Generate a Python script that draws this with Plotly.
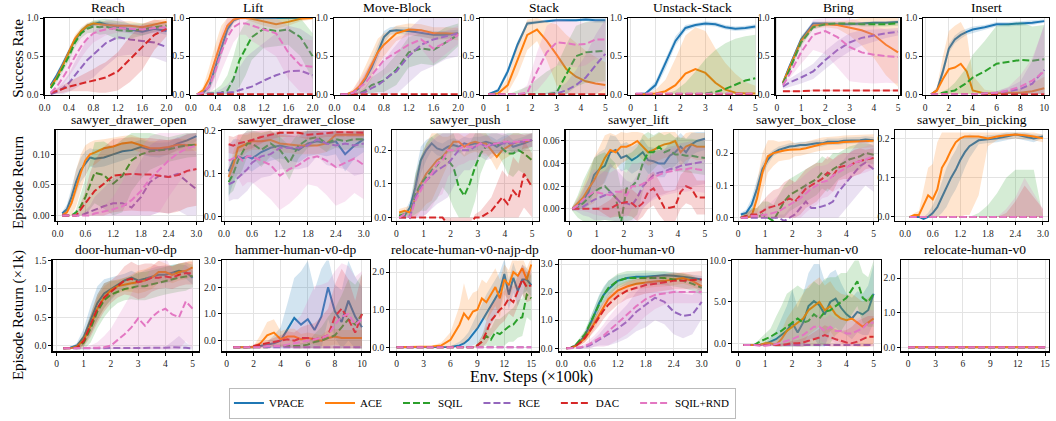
import plotly.graph_objects as go

W, H = 1056, 421
FONT = "Liberation Serif"

METHODS = ["VPACE", "ACE", "SQIL", "RCE", "DAC", "SQIL+RND"]
RGB = [(31, 119, 180), (255, 127, 14), (44, 160, 44), (148, 103, 189), (214, 39, 40), (227, 119, 194)]
DASHES = ["solid", "solid", "7px,3px", "7px,3px", "7px,3px", "7px,3px"]

# ---------------- Row 1: Success Rate ----------------
reach_x = [0.1, 0.2, 0.3, 0.4, 0.5, 0.6, 0.7, 0.8, 0.9, 1.0, 1.2, 1.4, 1.6, 1.8, 2.0]
reach_vpace = [0.12, 0.25, 0.40, 0.56, 0.72, 0.82, 0.90, 0.92, 0.94, 0.92, 0.88, 0.85, 0.82, 0.86, 0.83]
reach_ace = [0.10, 0.22, 0.38, 0.55, 0.73, 0.83, 0.90, 0.93, 0.92, 0.91, 0.90, 0.90, 0.88, 0.92, 0.95]
reach_sqil = [0.08, 0.20, 0.35, 0.50, 0.68, 0.80, 0.86, 0.89, 0.88, 0.89, 0.84, 0.83, 0.85, 0.88, 0.90]
reach_rce = [0.00, 0.03, 0.08, 0.15, 0.25, 0.35, 0.45, 0.52, 0.60, 0.67, 0.75, 0.72, 0.70, 0.68, 0.62]
reach_dac = [0.02, 0.04, 0.07, 0.10, 0.12, 0.14, 0.16, 0.18, 0.20, 0.22, 0.30, 0.46, 0.62, 0.78, 0.86]
reach_rnd = [0.02, 0.10, 0.22, 0.35, 0.50, 0.63, 0.73, 0.80, 0.83, 0.85, 0.87, 0.86, 0.85, 0.87, 0.88]
reach_vpace_sd = [0.02, 0.03, 0.04, 0.04, 0.04, 0.04, 0.03, 0.03, 0.03, 0.03, 0.05, 0.05, 0.05, 0.05, 0.05]
reach_ace_sd = [0.02, 0.04, 0.05, 0.05, 0.05, 0.05, 0.04, 0.03, 0.04, 0.05, 0.06, 0.06, 0.05, 0.05, 0.04]
reach_sqil_sd = [0.02, 0.04, 0.05, 0.06, 0.06, 0.06, 0.06, 0.08, 0.10, 0.10, 0.12, 0.10, 0.08, 0.06, 0.05]
reach_rce_sd = [0.02, 0.05, 0.08, 0.12, 0.18, 0.22, 0.28, 0.30, 0.30, 0.30, 0.25, 0.20, 0.20, 0.20, 0.20]
reach_dac_sd = [0.02, 0.03, 0.05, 0.06, 0.08, 0.10, 0.12, 0.15, 0.18, 0.20, 0.25, 0.30, 0.30, 0.20, 0.10]
reach_rnd_sd = [0.02, 0.06, 0.10, 0.12, 0.15, 0.15, 0.14, 0.12, 0.10, 0.08, 0.06, 0.06, 0.06, 0.06, 0.06]

lift_x = [0.1, 0.2, 0.3, 0.4, 0.5, 0.6, 0.7, 0.8, 0.9, 1.0, 1.2, 1.4, 1.6, 1.8, 2.0]
lift_vpace = [0.00, 0.02, 0.10, 0.35, 0.60, 0.85, 0.97, 1.00, 1.00, 1.00, 1.00, 1.00, 1.00, 1.00, 1.00]
lift_ace = [0.00, 0.05, 0.20, 0.45, 0.70, 0.90, 0.98, 1.00, 1.00, 0.99, 0.95, 0.92, 0.95, 0.99, 1.00]
lift_sqil = [0.00, 0.00, 0.01, 0.01, 0.02, 0.05, 0.20, 0.45, 0.60, 0.75, 0.86, 0.83, 0.85, 0.75, 0.50]
lift_rce = [0.00, 0.00, 0.01, 0.01, 0.02, 0.02, 0.03, 0.05, 0.08, 0.10, 0.18, 0.25, 0.30, 0.31, 0.25]
lift_dac = [0.00, 0.00, 0.00, 0.00, 0.00, 0.00, 0.00, 0.00, 0.00, 0.00, 0.00, 0.00, 0.00, 0.00, 0.00]
lift_rnd = [0.00, 0.02, 0.10, 0.30, 0.55, 0.75, 0.88, 0.93, 0.93, 0.90, 0.85, 0.80, 0.55, 0.38, 0.36]
lift_vpace_sd = [0.00, 0.02, 0.08, 0.12, 0.12, 0.08, 0.03, 0.01, 0.01, 0.01, 0.01, 0.01, 0.01, 0.01, 0.01]
lift_ace_sd = [0.00, 0.05, 0.15, 0.20, 0.20, 0.12, 0.05, 0.02, 0.02, 0.03, 0.05, 0.06, 0.05, 0.03, 0.02]
lift_sqil_sd = [0.00, 0.00, 0.02, 0.05, 0.10, 0.20, 0.30, 0.35, 0.35, 0.30, 0.25, 0.20, 0.20, 0.25, 0.30]
lift_rce_sd = [0.00, 0.00, 0.01, 0.02, 0.05, 0.10, 0.20, 0.30, 0.40, 0.45, 0.50, 0.55, 0.60, 0.55, 0.50]
lift_dac_sd = [0.00, 0.00, 0.00, 0.00, 0.00, 0.00, 0.00, 0.00, 0.00, 0.00, 0.00, 0.00, 0.00, 0.00, 0.00]
lift_rnd_sd = [0.00, 0.03, 0.10, 0.20, 0.25, 0.25, 0.20, 0.15, 0.15, 0.20, 0.25, 0.30, 0.35, 0.35, 0.35]

move_x = [0.1, 0.2, 0.3, 0.4, 0.5, 0.6, 0.7, 0.8, 0.9, 1.0, 1.2, 1.4, 1.6, 1.8, 2.0]
move_vpace = [0.00, 0.00, 0.02, 0.08, 0.20, 0.35, 0.55, 0.75, 0.83, 0.84, 0.83, 0.80, 0.78, 0.78, 0.80]
move_ace = [0.00, 0.00, 0.03, 0.10, 0.22, 0.38, 0.55, 0.65, 0.72, 0.80, 0.85, 0.84, 0.80, 0.80, 0.79]
move_sqil = [0.00, 0.00, 0.00, 0.01, 0.05, 0.12, 0.15, 0.18, 0.25, 0.32, 0.55, 0.60, 0.58, 0.68, 0.78]
move_rce = [0.00, 0.00, 0.00, 0.01, 0.03, 0.08, 0.12, 0.18, 0.25, 0.30, 0.50, 0.65, 0.72, 0.76, 0.80]
move_dac = [0.00, 0.00, 0.00, 0.00, 0.00, 0.00, 0.00, 0.00, 0.00, 0.00, 0.00, 0.00, 0.00, 0.00, 0.00]
move_rnd = [0.00, 0.00, 0.02, 0.08, 0.15, 0.25, 0.35, 0.45, 0.50, 0.55, 0.65, 0.72, 0.60, 0.68, 0.78]
move_vpace_sd = [0.00, 0.00, 0.02, 0.05, 0.08, 0.10, 0.10, 0.08, 0.05, 0.05, 0.05, 0.05, 0.05, 0.05, 0.05]
move_ace_sd = [0.00, 0.01, 0.04, 0.10, 0.15, 0.18, 0.18, 0.15, 0.12, 0.10, 0.08, 0.08, 0.08, 0.08, 0.08]
move_sqil_sd = [0.00, 0.00, 0.00, 0.02, 0.05, 0.10, 0.12, 0.15, 0.18, 0.20, 0.20, 0.20, 0.20, 0.20, 0.15]
move_rce_sd = [0.00, 0.00, 0.01, 0.03, 0.10, 0.15, 0.20, 0.25, 0.30, 0.35, 0.35, 0.35, 0.35, 0.30, 0.30]
move_dac_sd = [0.00, 0.00, 0.00, 0.00, 0.00, 0.00, 0.00, 0.00, 0.00, 0.00, 0.00, 0.00, 0.00, 0.00, 0.00]
move_rnd_sd = [0.00, 0.01, 0.04, 0.10, 0.15, 0.18, 0.20, 0.20, 0.20, 0.20, 0.15, 0.12, 0.20, 0.15, 0.12]

stack_x = [0.2, 0.6, 1.0, 1.4, 1.8, 2.2, 2.6, 3.0, 3.4, 3.8, 4.2, 4.6, 5.0]
stack_vpace = [0.00, 0.05, 0.30, 0.65, 0.93, 0.95, 0.96, 0.97, 0.97, 0.97, 0.98, 0.97, 0.97]
stack_ace = [0.00, 0.01, 0.12, 0.45, 0.78, 0.85, 0.70, 0.52, 0.33, 0.23, 0.17, 0.14, 0.12]
stack_sqil = [0.00, 0.00, 0.00, 0.00, 0.00, 0.00, 0.00, 0.02, 0.25, 0.50, 0.55, 0.56, 0.57]
stack_rce = [0.00, 0.00, 0.00, 0.00, 0.00, 0.00, 0.00, 0.01, 0.05, 0.12, 0.22, 0.38, 0.53]
stack_dac = [0.00, 0.00, 0.00, 0.00, 0.00, 0.00, 0.00, 0.00, 0.00, 0.00, 0.00, 0.00, 0.00]
stack_rnd = [0.00, 0.00, 0.00, 0.00, 0.02, 0.30, 0.55, 0.68, 0.67, 0.65, 0.66, 0.72, 0.72]
stack_vpace_sd = [0.00, 0.03, 0.05, 0.05, 0.03, 0.02, 0.02, 0.02, 0.02, 0.02, 0.02, 0.03, 0.03]
stack_ace_sd = [0.00, 0.02, 0.10, 0.20, 0.20, 0.15, 0.25, 0.40, 0.45, 0.45, 0.40, 0.35, 0.30]
stack_sqil_sd = [0.00, 0.00, 0.00, 0.05, 0.10, 0.20, 0.30, 0.35, 0.40, 0.40, 0.40, 0.40, 0.40]
stack_rce_sd = [0.00, 0.00, 0.00, 0.00, 0.00, 0.00, 0.02, 0.05, 0.10, 0.20, 0.30, 0.40, 0.45]
stack_dac_sd = [0.00, 0.00, 0.00, 0.00, 0.00, 0.00, 0.00, 0.00, 0.00, 0.00, 0.00, 0.00, 0.00]
stack_rnd_sd = [0.00, 0.00, 0.00, 0.02, 0.10, 0.25, 0.35, 0.30, 0.30, 0.30, 0.28, 0.25, 0.25]

unstack_x = [0.2, 0.6, 1.0, 1.4, 1.8, 2.2, 2.6, 3.0, 3.4, 3.8, 4.2, 4.6, 5.0]
unstack_vpace = [0.00, 0.01, 0.12, 0.40, 0.70, 0.87, 0.91, 0.93, 0.92, 0.88, 0.86, 0.87, 0.89]
unstack_ace = [0.00, 0.00, 0.01, 0.04, 0.12, 0.27, 0.33, 0.28, 0.15, 0.06, 0.02, 0.01, 0.01]
unstack_sqil = [0.00, 0.00, 0.00, 0.00, 0.00, 0.00, 0.00, 0.01, 0.03, 0.07, 0.13, 0.18, 0.21]
unstack_rce = [0.00, 0.00, 0.00, 0.00, 0.00, 0.00, 0.00, 0.00, 0.00, 0.00, 0.00, 0.00, 0.00]
unstack_dac = [0.00, 0.00, 0.00, 0.00, 0.00, 0.00, 0.00, 0.00, 0.00, 0.00, 0.00, 0.00, 0.00]
unstack_rnd = [0.01, 0.01, 0.01, 0.01, 0.01, 0.01, 0.01, 0.01, 0.01, 0.01, 0.01, 0.01, 0.01]
unstack_vpace_sd = [0.00, 0.02, 0.05, 0.07, 0.06, 0.04, 0.03, 0.03, 0.03, 0.03, 0.03, 0.03, 0.03]
unstack_ace_sd = [0.00, 0.00, 0.05, 0.15, 0.35, 0.50, 0.55, 0.55, 0.45, 0.35, 0.25, 0.15, 0.10]
unstack_sqil_sd = [0.00, 0.00, 0.00, 0.00, 0.05, 0.15, 0.30, 0.45, 0.55, 0.60, 0.60, 0.58, 0.57]
unstack_rce_sd = [0.00, 0.00, 0.00, 0.00, 0.00, 0.00, 0.00, 0.00, 0.00, 0.00, 0.00, 0.00, 0.00]
unstack_dac_sd = [0.00, 0.00, 0.00, 0.00, 0.00, 0.00, 0.00, 0.00, 0.00, 0.00, 0.00, 0.00, 0.00]
unstack_rnd_sd = [0.00, 0.00, 0.00, 0.00, 0.00, 0.00, 0.00, 0.00, 0.00, 0.00, 0.00, 0.00, 0.00]

bring_x = [0.25, 0.5, 1.0, 1.5, 2.0, 2.5, 3.0, 3.5, 4.0, 4.5, 5.0]
bring_vpace = [0.15, 0.35, 0.72, 0.93, 0.93, 0.92, 0.92, 0.93, 0.94, 0.94, 0.95]
bring_ace = [0.15, 0.33, 0.70, 0.90, 0.92, 0.91, 0.87, 0.84, 0.78, 0.65, 0.55]
bring_sqil = [0.14, 0.30, 0.68, 0.88, 0.92, 0.93, 0.93, 0.92, 0.92, 0.92, 0.93]
bring_rce = [0.10, 0.15, 0.22, 0.30, 0.45, 0.58, 0.68, 0.74, 0.77, 0.80, 0.82]
bring_dac = [0.04, 0.04, 0.04, 0.05, 0.05, 0.05, 0.05, 0.05, 0.05, 0.05, 0.05]
bring_rnd = [0.12, 0.25, 0.55, 0.78, 0.83, 0.75, 0.62, 0.55, 0.52, 0.50, 0.49]
bring_vpace_sd = [0.02, 0.03, 0.04, 0.03, 0.02, 0.02, 0.02, 0.02, 0.02, 0.02, 0.02]
bring_ace_sd = [0.02, 0.03, 0.05, 0.04, 0.04, 0.05, 0.10, 0.20, 0.30, 0.40, 0.45]
bring_sqil_sd = [0.02, 0.03, 0.05, 0.03, 0.02, 0.02, 0.02, 0.03, 0.03, 0.03, 0.03]
bring_rce_sd = [0.03, 0.05, 0.08, 0.10, 0.12, 0.12, 0.12, 0.10, 0.08, 0.06, 0.05]
bring_dac_sd = [0.01, 0.01, 0.01, 0.01, 0.01, 0.01, 0.01, 0.01, 0.01, 0.01, 0.01]
bring_rnd_sd = [0.02, 0.05, 0.15, 0.20, 0.30, 0.40, 0.45, 0.40, 0.38, 0.35, 0.35]

insert_x = [0.5, 1.0, 1.5, 2.0, 2.5, 3.0, 3.5, 4.0, 5.0, 6.0, 7.0, 8.0, 9.0, 10.0]
insert_vpace = [0.00, 0.05, 0.30, 0.60, 0.72, 0.78, 0.82, 0.85, 0.88, 0.92, 0.92, 0.93, 0.94, 0.96]
insert_ace = [0.00, 0.05, 0.20, 0.33, 0.35, 0.40, 0.30, 0.05, 0.01, 0.01, 0.02, 0.02, 0.04, 0.08]
insert_sqil = [0.00, 0.00, 0.02, 0.03, 0.05, 0.10, 0.15, 0.22, 0.30, 0.40, 0.43, 0.45, 0.44, 0.46]
insert_rce = [0.00, 0.00, 0.00, 0.00, 0.00, 0.00, 0.00, 0.00, 0.01, 0.02, 0.04, 0.07, 0.14, 0.32]
insert_dac = [0.00, 0.00, 0.00, 0.00, 0.00, 0.00, 0.00, 0.00, 0.00, 0.00, 0.00, 0.00, 0.00, 0.00]
insert_rnd = [0.00, 0.00, 0.00, 0.00, 0.00, 0.00, 0.00, 0.00, 0.01, 0.02, 0.05, 0.10, 0.18, 0.30]
insert_vpace_sd = [0.00, 0.03, 0.06, 0.06, 0.05, 0.05, 0.04, 0.04, 0.03, 0.03, 0.03, 0.03, 0.03, 0.02]
insert_ace_sd = [0.00, 0.05, 0.30, 0.50, 0.55, 0.55, 0.50, 0.20, 0.05, 0.03, 0.03, 0.05, 0.10, 0.15]
insert_sqil_sd = [0.00, 0.00, 0.02, 0.05, 0.10, 0.15, 0.20, 0.30, 0.40, 0.50, 0.50, 0.50, 0.45, 0.45]
insert_rce_sd = [0.00, 0.00, 0.00, 0.00, 0.00, 0.00, 0.00, 0.00, 0.01, 0.02, 0.05, 0.10, 0.30, 0.60]
insert_dac_sd = [0.00, 0.00, 0.00, 0.00, 0.00, 0.00, 0.00, 0.00, 0.00, 0.00, 0.00, 0.00, 0.00, 0.00]
insert_rnd_sd = [0.00, 0.00, 0.00, 0.00, 0.00, 0.00, 0.00, 0.00, 0.01, 0.02, 0.05, 0.15, 0.30, 0.60]

# ---------------- Row 2: Episode Return (sawyer) ----------------
dopen_x = [0.1, 0.2, 0.3, 0.4, 0.5, 0.6, 0.7, 0.8, 1.0, 1.2, 1.4, 1.6, 1.8, 2.0, 2.2, 2.4, 2.6, 2.8, 3.0]
dopen_vpace = [0.003, 0.010, 0.030, 0.055, 0.075, 0.085, 0.095, 0.093, 0.095, 0.100, 0.105, 0.107, 0.112, 0.108, 0.107, 0.110, 0.118, 0.123, 0.130]
dopen_ace = [0.000, 0.005, 0.020, 0.045, 0.070, 0.090, 0.100, 0.103, 0.110, 0.113, 0.118, 0.120, 0.115, 0.110, 0.110, 0.112, 0.116, 0.115, 0.116]
dopen_sqil = [0.000, 0.000, 0.000, 0.005, 0.015, 0.030, 0.050, 0.070, 0.066, 0.052, 0.065, 0.090, 0.100, 0.105, 0.107, 0.108, 0.112, 0.115, 0.116]
dopen_rce = [0.000, 0.000, 0.000, 0.000, 0.000, 0.003, 0.006, 0.010, 0.015, 0.020, 0.020, 0.013, 0.030, 0.055, 0.065, 0.063, 0.068, 0.055, 0.043]
dopen_dac = [0.000, 0.000, 0.000, 0.000, 0.010, 0.020, 0.030, 0.040, 0.052, 0.065, 0.067, 0.068, 0.067, 0.067, 0.065, 0.063, 0.066, 0.073, 0.076]
dopen_rnd = [0.000, 0.000, 0.000, 0.000, 0.000, 0.000, 0.000, 0.003, 0.006, 0.010, 0.015, 0.025, 0.040, 0.060, 0.075, 0.090, 0.102, 0.110, 0.114]
dopen_vpace_sd = [0.003, 0.008, 0.015, 0.020, 0.020, 0.020, 0.015, 0.015, 0.015, 0.015, 0.015, 0.012, 0.012, 0.012, 0.012, 0.010, 0.010, 0.010, 0.008]
dopen_ace_sd = [0.003, 0.008, 0.020, 0.030, 0.030, 0.025, 0.020, 0.020, 0.015, 0.015, 0.012, 0.012, 0.012, 0.012, 0.012, 0.012, 0.010, 0.010, 0.010]
dopen_sqil_sd = [0.000, 0.000, 0.000, 0.005, 0.020, 0.030, 0.040, 0.050, 0.055, 0.060, 0.060, 0.050, 0.040, 0.030, 0.025, 0.020, 0.020, 0.020, 0.020]
dopen_rce_sd = [0.000, 0.000, 0.000, 0.000, 0.000, 0.005, 0.010, 0.020, 0.030, 0.040, 0.050, 0.050, 0.060, 0.060, 0.060, 0.060, 0.060, 0.060, 0.060]
dopen_dac_sd = [0.000, 0.000, 0.000, 0.000, 0.010, 0.020, 0.040, 0.050, 0.060, 0.060, 0.060, 0.060, 0.060, 0.060, 0.060, 0.060, 0.060, 0.060, 0.060]
dopen_rnd_sd = [0.000, 0.000, 0.000, 0.000, 0.000, 0.000, 0.000, 0.005, 0.010, 0.020, 0.040, 0.060, 0.070, 0.070, 0.070, 0.060, 0.050, 0.040, 0.040]

dclose_x = [0.1, 0.2, 0.3, 0.4, 0.5, 0.6, 0.8, 1.0, 1.2, 1.4, 1.6, 1.8, 2.0, 2.2, 2.4, 2.6, 2.8, 3.0]
dclose_vpace = [0.105, 0.130, 0.140, 0.135, 0.140, 0.135, 0.150, 0.160, 0.165, 0.160, 0.155, 0.170, 0.175, 0.170, 0.175, 0.145, 0.165, 0.180]
dclose_ace = [0.092, 0.120, 0.160, 0.165, 0.170, 0.175, 0.175, 0.178, 0.170, 0.168, 0.165, 0.165, 0.165, 0.170, 0.190, 0.190, 0.190, 0.190]
dclose_sqil = [0.080, 0.100, 0.130, 0.150, 0.170, 0.170, 0.155, 0.170, 0.155, 0.125, 0.165, 0.180, 0.185, 0.170, 0.180, 0.175, 0.180, 0.180]
dclose_rce = [0.075, 0.080, 0.090, 0.100, 0.110, 0.125, 0.140, 0.145, 0.160, 0.160, 0.160, 0.165, 0.180, 0.170, 0.165, 0.170, 0.165, 0.170]
dclose_dac = [0.168, 0.165, 0.170, 0.172, 0.175, 0.178, 0.185, 0.190, 0.195, 0.195, 0.195, 0.190, 0.192, 0.195, 0.196, 0.196, 0.195, 0.195]
dclose_rnd = [0.130, 0.135, 0.140, 0.130, 0.140, 0.140, 0.130, 0.120, 0.095, 0.110, 0.120, 0.135, 0.140, 0.130, 0.115, 0.125, 0.135, 0.120]
dclose_vpace_sd = [0.060, 0.050, 0.040, 0.040, 0.030, 0.030, 0.030, 0.030, 0.030, 0.030, 0.030, 0.030, 0.030, 0.030, 0.030, 0.040, 0.030, 0.030]
dclose_ace_sd = [0.020, 0.030, 0.030, 0.025, 0.020, 0.020, 0.020, 0.020, 0.020, 0.020, 0.020, 0.020, 0.020, 0.020, 0.015, 0.015, 0.015, 0.015]
dclose_sqil_sd = [0.030, 0.040, 0.040, 0.040, 0.030, 0.030, 0.040, 0.030, 0.030, 0.040, 0.030, 0.020, 0.020, 0.020, 0.020, 0.020, 0.020, 0.020]
dclose_rce_sd = [0.040, 0.040, 0.050, 0.050, 0.050, 0.050, 0.050, 0.050, 0.050, 0.050, 0.050, 0.050, 0.040, 0.050, 0.050, 0.060, 0.070, 0.070]
dclose_dac_sd = [0.020, 0.020, 0.020, 0.020, 0.020, 0.020, 0.015, 0.010, 0.010, 0.010, 0.010, 0.010, 0.010, 0.010, 0.010, 0.010, 0.010, 0.010]
dclose_rnd_sd = [0.040, 0.040, 0.050, 0.060, 0.060, 0.060, 0.070, 0.080, 0.080, 0.080, 0.070, 0.060, 0.070, 0.080, 0.090, 0.090, 0.080, 0.080]

push_x = [0.1, 0.3, 0.5, 0.7, 0.9, 1.1, 1.3, 1.5, 1.7, 1.9, 2.1, 2.3, 2.5, 2.7, 2.9, 3.1, 3.3, 3.5, 3.7, 3.9, 4.1, 4.3, 4.5, 4.7, 5.0]
push_vpace = [0.005, 0.005, 0.030, 0.090, 0.170, 0.200, 0.220, 0.205, 0.200, 0.210, 0.215, 0.210, 0.220, 0.215, 0.220, 0.220, 0.225, 0.220, 0.210, 0.220, 0.225, 0.210, 0.215, 0.220, 0.230]
push_ace = [0.015, 0.020, 0.015, 0.060, 0.100, 0.130, 0.150, 0.170, 0.180, 0.200, 0.225, 0.225, 0.210, 0.220, 0.225, 0.220, 0.220, 0.200, 0.180, 0.200, 0.210, 0.220, 0.225, 0.225, 0.230]
push_sqil = [0.005, 0.010, 0.000, 0.070, 0.100, 0.120, 0.140, 0.155, 0.180, 0.170, 0.150, 0.090, 0.065, 0.100, 0.150, 0.190, 0.210, 0.220, 0.220, 0.205, 0.190, 0.190, 0.200, 0.190, 0.170]
push_rce = [0.000, 0.000, 0.000, 0.060, 0.090, 0.110, 0.125, 0.140, 0.150, 0.160, 0.180, 0.200, 0.200, 0.200, 0.210, 0.220, 0.210, 0.215, 0.220, 0.220, 0.220, 0.220, 0.225, 0.225, 0.230]
push_dac = [0.000, 0.000, 0.000, 0.000, 0.000, 0.000, 0.000, 0.000, 0.000, -0.020, -0.020, -0.020, -0.020, -0.020, 0.000, 0.000, 0.010, 0.020, 0.040, 0.060, 0.040, 0.080, 0.060, 0.130, 0.090]
push_rnd = [0.000, 0.010, 0.000, 0.050, 0.080, 0.110, 0.130, 0.160, 0.170, 0.200, 0.200, 0.205, 0.210, 0.210, 0.210, 0.220, 0.210, 0.220, 0.220, 0.225, 0.225, 0.225, 0.225, 0.230, 0.230]
push_vpace_sd = [0.010, 0.010, 0.020, 0.040, 0.040, 0.030, 0.020, 0.020, 0.020, 0.020, 0.020, 0.020, 0.020, 0.020, 0.020, 0.020, 0.020, 0.020, 0.020, 0.020, 0.020, 0.020, 0.020, 0.020, 0.020]
push_ace_sd = [0.010, 0.010, 0.020, 0.060, 0.080, 0.090, 0.100, 0.080, 0.060, 0.040, 0.030, 0.030, 0.030, 0.030, 0.030, 0.030, 0.030, 0.030, 0.040, 0.030, 0.030, 0.030, 0.030, 0.020, 0.020]
push_sqil_sd = [0.010, 0.010, 0.010, 0.060, 0.080, 0.100, 0.100, 0.100, 0.090, 0.100, 0.120, 0.120, 0.120, 0.120, 0.100, 0.060, 0.040, 0.030, 0.030, 0.040, 0.060, 0.070, 0.060, 0.060, 0.080]
push_rce_sd = [0.000, 0.000, 0.000, 0.060, 0.090, 0.100, 0.100, 0.100, 0.100, 0.100, 0.090, 0.080, 0.060, 0.060, 0.050, 0.040, 0.040, 0.040, 0.030, 0.030, 0.030, 0.030, 0.030, 0.020, 0.020]
push_dac_sd = [0.000, 0.000, 0.000, 0.000, 0.000, 0.000, 0.000, 0.000, 0.000, 0.000, 0.000, 0.000, 0.000, 0.000, 0.010, 0.020, 0.030, 0.040, 0.060, 0.080, 0.080, 0.100, 0.100, 0.100, 0.100]
push_rnd_sd = [0.000, 0.010, 0.010, 0.050, 0.080, 0.100, 0.100, 0.100, 0.100, 0.080, 0.060, 0.050, 0.050, 0.040, 0.040, 0.030, 0.030, 0.030, 0.030, 0.030, 0.020, 0.020, 0.020, 0.020, 0.020]

slift_x = [0.1, 0.3, 0.5, 0.7, 0.9, 1.1, 1.3, 1.5, 1.7, 1.9, 2.1, 2.3, 2.5, 2.7, 2.9, 3.1, 3.3, 3.5, 3.7, 3.9, 4.1, 4.3, 4.5, 4.7, 5.0]
slift_vpace = [0.000, 0.003, 0.008, 0.015, 0.030, 0.035, 0.038, 0.050, 0.052, 0.045, 0.047, 0.043, 0.046, 0.050, 0.043, 0.042, 0.040, 0.040, 0.047, 0.050, 0.055, 0.050, 0.057, 0.060, 0.062]
slift_ace = [0.000, 0.005, 0.010, 0.018, 0.025, 0.035, 0.045, 0.052, 0.050, 0.055, 0.055, 0.057, 0.060, 0.055, 0.050, 0.052, 0.055, 0.057, 0.058, 0.060, 0.050, 0.055, 0.057, 0.055, 0.055]
slift_sqil = [0.000, 0.002, 0.005, 0.010, 0.015, 0.018, 0.020, 0.015, 0.010, -0.012, 0.018, 0.020, 0.025, 0.040, 0.050, 0.050, 0.055, 0.050, 0.052, 0.048, 0.048, 0.047, 0.047, 0.046, 0.045]
slift_rce = [0.000, 0.000, 0.002, 0.005, 0.008, 0.010, 0.012, 0.015, 0.010, 0.005, 0.005, 0.003, 0.010, 0.020, 0.025, 0.030, 0.032, 0.033, 0.035, 0.036, 0.038, 0.039, 0.040, 0.041, 0.042]
slift_dac = [0.000, 0.000, 0.000, 0.000, 0.000, 0.000, 0.000, 0.000, 0.003, 0.005, 0.006, 0.005, 0.001, 0.005, 0.015, 0.018, 0.010, 0.001, 0.001, 0.002, 0.015, 0.020, 0.018, 0.010, 0.010]
slift_rnd = [0.000, 0.003, 0.008, 0.012, 0.015, 0.014, 0.013, 0.012, 0.015, 0.015, 0.012, 0.020, 0.020, 0.022, 0.025, 0.028, 0.030, 0.032, 0.033, 0.034, 0.035, 0.035, 0.036, 0.035, 0.034]
slift_vpace_sd = [0.002, 0.004, 0.008, 0.012, 0.015, 0.015, 0.015, 0.015, 0.012, 0.012, 0.012, 0.012, 0.012, 0.012, 0.012, 0.012, 0.012, 0.012, 0.012, 0.012, 0.012, 0.012, 0.010, 0.010, 0.010]
slift_ace_sd = [0.002, 0.005, 0.010, 0.015, 0.020, 0.020, 0.020, 0.015, 0.015, 0.015, 0.012, 0.012, 0.012, 0.012, 0.012, 0.012, 0.012, 0.012, 0.012, 0.012, 0.012, 0.012, 0.012, 0.012, 0.012]
slift_sqil_sd = [0.002, 0.010, 0.020, 0.025, 0.030, 0.030, 0.030, 0.030, 0.030, 0.030, 0.030, 0.030, 0.030, 0.025, 0.020, 0.015, 0.015, 0.015, 0.015, 0.015, 0.015, 0.015, 0.015, 0.015, 0.015]
slift_rce_sd = [0.000, 0.003, 0.008, 0.012, 0.018, 0.020, 0.022, 0.025, 0.025, 0.025, 0.020, 0.020, 0.020, 0.020, 0.020, 0.020, 0.020, 0.020, 0.020, 0.020, 0.020, 0.020, 0.020, 0.020, 0.020]
slift_dac_sd = [0.000, 0.000, 0.000, 0.000, 0.000, 0.002, 0.005, 0.008, 0.010, 0.012, 0.012, 0.012, 0.012, 0.012, 0.015, 0.015, 0.015, 0.015, 0.015, 0.015, 0.015, 0.015, 0.015, 0.015, 0.015]
slift_rnd_sd = [0.002, 0.005, 0.010, 0.015, 0.020, 0.020, 0.020, 0.020, 0.020, 0.020, 0.020, 0.020, 0.020, 0.020, 0.020, 0.020, 0.020, 0.020, 0.020, 0.020, 0.020, 0.020, 0.020, 0.020, 0.020]

box_x = [0.1, 0.3, 0.5, 0.7, 0.9, 1.1, 1.3, 1.5, 1.7, 1.9, 2.1, 2.3, 2.5, 2.7, 2.9, 3.1, 3.3, 3.5, 3.7, 3.9, 4.1, 4.3, 4.5, 4.7, 5.0]
box_vpace = [0.010, 0.015, 0.040, 0.090, 0.150, 0.180, 0.200, 0.210, 0.215, 0.220, 0.222, 0.225, 0.225, 0.228, 0.230, 0.230, 0.235, 0.235, 0.235, 0.238, 0.238, 0.240, 0.240, 0.242, 0.240]
box_ace = [0.000, 0.000, 0.005, 0.060, 0.140, 0.190, 0.200, 0.205, 0.208, 0.210, 0.210, 0.212, 0.215, 0.220, 0.225, 0.228, 0.230, 0.230, 0.232, 0.234, 0.235, 0.235, 0.235, 0.237, 0.238]
box_sqil = [0.000, 0.005, 0.010, 0.000, 0.010, 0.000, -0.010, 0.020, 0.050, 0.070, 0.080, 0.090, 0.100, 0.110, 0.120, 0.140, 0.130, 0.150, 0.160, 0.170, 0.180, 0.185, 0.190, 0.200, 0.195]
box_rce = [0.000, 0.000, 0.000, 0.000, 0.000, 0.000, 0.000, 0.000, -0.010, 0.000, 0.010, 0.030, 0.050, 0.030, 0.030, 0.035, 0.040, 0.050, 0.080, 0.100, 0.120, 0.140, 0.160, 0.170, 0.150]
box_dac = [0.000, 0.005, 0.010, 0.010, 0.020, 0.030, 0.035, 0.040, 0.050, 0.060, 0.050, 0.070, 0.090, 0.100, 0.110, 0.120, 0.140, 0.130, 0.155, 0.160, 0.160, 0.170, 0.175, 0.180, 0.185]
box_rnd = [0.000, 0.000, 0.005, 0.005, 0.008, 0.010, 0.015, 0.020, 0.030, 0.040, 0.050, 0.060, 0.075, 0.090, 0.100, 0.110, 0.115, 0.130, 0.140, 0.150, 0.160, 0.170, 0.175, 0.180, 0.190]
box_vpace_sd = [0.005, 0.010, 0.020, 0.030, 0.020, 0.015, 0.010, 0.010, 0.010, 0.010, 0.010, 0.010, 0.010, 0.010, 0.010, 0.010, 0.010, 0.010, 0.010, 0.010, 0.010, 0.010, 0.010, 0.010, 0.010]
box_ace_sd = [0.005, 0.010, 0.020, 0.050, 0.060, 0.050, 0.040, 0.030, 0.030, 0.030, 0.020, 0.020, 0.020, 0.020, 0.020, 0.020, 0.020, 0.020, 0.020, 0.020, 0.020, 0.020, 0.020, 0.020, 0.020]
box_sqil_sd = [0.005, 0.010, 0.020, 0.030, 0.040, 0.050, 0.050, 0.050, 0.050, 0.050, 0.050, 0.050, 0.050, 0.050, 0.050, 0.050, 0.050, 0.050, 0.040, 0.040, 0.040, 0.040, 0.040, 0.030, 0.030]
box_rce_sd = [0.000, 0.000, 0.000, 0.000, 0.000, 0.000, 0.000, 0.010, 0.020, 0.030, 0.040, 0.050, 0.060, 0.060, 0.070, 0.070, 0.080, 0.080, 0.080, 0.080, 0.080, 0.080, 0.080, 0.070, 0.070]
box_dac_sd = [0.005, 0.010, 0.015, 0.020, 0.030, 0.040, 0.050, 0.050, 0.060, 0.060, 0.060, 0.060, 0.060, 0.060, 0.060, 0.050, 0.050, 0.050, 0.040, 0.040, 0.040, 0.040, 0.040, 0.030, 0.030]
box_rnd_sd = [0.000, 0.005, 0.010, 0.015, 0.020, 0.030, 0.040, 0.050, 0.060, 0.060, 0.060, 0.060, 0.060, 0.060, 0.060, 0.050, 0.050, 0.050, 0.050, 0.050, 0.040, 0.040, 0.040, 0.040, 0.040]

bin_x = [0.1, 0.2, 0.3, 0.4, 0.5, 0.6, 0.7, 0.8, 0.9, 1.0, 1.1, 1.2, 1.3, 1.4, 1.6, 1.8, 2.0, 2.2, 2.4, 2.6, 2.8, 3.0]
bin_vpace = [0.000, 0.000, 0.000, -0.005, 0.000, 0.010, 0.025, 0.050, 0.075, 0.100, 0.120, 0.145, 0.165, 0.180, 0.195, 0.198, 0.200, 0.205, 0.210, 0.205, 0.200, 0.205]
bin_ace = [0.000, 0.005, 0.005, 0.030, 0.055, 0.045, 0.070, 0.125, 0.145, 0.170, 0.190, 0.200, 0.205, 0.205, 0.205, 0.200, 0.205, 0.208, 0.210, 0.208, 0.205, 0.200]
bin_sqil = [0.000, 0.000, 0.000, 0.000, 0.000, 0.000, 0.000, 0.000, 0.000, 0.000, 0.000, 0.000, 0.000, 0.000, 0.000, 0.000, 0.000, 0.000, 0.000, 0.000, 0.000, 0.000]
bin_rce = [0.000, 0.000, 0.000, 0.000, 0.000, 0.000, 0.000, 0.000, 0.000, 0.000, 0.000, 0.000, 0.000, 0.000, 0.000, 0.000, 0.000, 0.000, 0.000, 0.000, 0.000, 0.000]
bin_dac = [0.000, 0.000, 0.000, 0.000, 0.000, 0.000, 0.000, 0.000, 0.000, 0.000, 0.000, 0.000, 0.000, 0.000, 0.000, 0.000, 0.000, 0.000, 0.000, 0.000, 0.000, 0.000]
bin_rnd = [0.000, 0.000, 0.000, 0.000, 0.000, 0.000, 0.000, 0.000, 0.000, 0.000, 0.000, 0.000, 0.000, 0.000, 0.000, 0.000, 0.000, 0.000, 0.000, 0.000, 0.000, 0.000]
bin_vpace_sd = [0.000, 0.000, 0.000, 0.005, 0.010, 0.020, 0.030, 0.040, 0.050, 0.050, 0.050, 0.050, 0.040, 0.030, 0.010, 0.010, 0.010, 0.010, 0.010, 0.010, 0.010, 0.005]
bin_ace_sd = [0.000, 0.005, 0.010, 0.040, 0.070, 0.090, 0.120, 0.150, 0.170, 0.180, 0.190, 0.200, 0.200, 0.200, 0.150, 0.020, 0.010, 0.010, 0.010, 0.010, 0.010, 0.010]
bin_sqil_sd = [0.000, 0.000, 0.000, 0.000, 0.000, 0.000, 0.000, 0.000, 0.000, 0.000, 0.000, 0.000, 0.000, 0.000, 0.010, 0.030, 0.060, 0.100, 0.120, 0.120, 0.120, 0.000]
bin_rce_sd = [0.000, 0.000, 0.000, 0.000, 0.000, 0.000, 0.000, 0.000, 0.000, 0.000, 0.000, 0.000, 0.000, 0.000, 0.000, 0.000, 0.000, 0.000, 0.000, 0.000, 0.000, 0.000]
bin_dac_sd = [0.000, 0.000, 0.000, 0.000, 0.000, 0.000, 0.000, 0.000, 0.000, 0.000, 0.000, 0.000, 0.000, 0.000, 0.000, 0.000, 0.000, 0.010, 0.040, 0.080, 0.050, 0.020]
bin_rnd_sd = [0.000, 0.000, 0.000, 0.000, 0.000, 0.000, 0.000, 0.000, 0.000, 0.000, 0.000, 0.000, 0.000, 0.000, 0.000, 0.000, 0.000, 0.020, 0.050, 0.100, 0.060, 0.020]

# ---------------- Row 3: Episode Return (x1k, Adroit) ----------------
doordp_x = [0.25, 0.5, 0.75, 1.0, 1.25, 1.5, 1.75, 2.0, 2.25, 2.5, 2.75, 3.0, 3.25, 3.5, 3.75, 4.0, 4.25, 4.5, 4.75, 5.0]
doordp_vpace = [-0.05, -0.04, 0.00, 0.15, 0.45, 0.75, 0.92, 1.00, 1.08, 1.15, 1.20, 1.15, 1.18, 1.22, 1.25, 1.25, 1.28, 1.32, 1.30, 1.20]
doordp_ace = [-0.05, -0.05, -0.02, 0.10, 0.35, 0.65, 0.85, 0.98, 1.05, 1.08, 1.10, 1.12, 1.15, 1.20, 1.30, 1.30, 1.25, 1.30, 1.32, 1.38]
doordp_sqil = [-0.05, -0.05, -0.04, 0.05, 0.30, 0.60, 0.80, 0.90, 0.95, 1.00, 1.02, 1.05, 1.05, 1.08, 1.12, 1.15, 1.18, 1.20, 1.22, 1.23]
doordp_rce = [-0.05, -0.05, -0.05, -0.05, -0.05, -0.05, -0.05, -0.05, -0.05, -0.05, -0.05, -0.04, -0.04, -0.04, -0.04, -0.04, -0.03, -0.03, -0.04, -0.05]
doordp_dac = [-0.05, -0.05, -0.04, 0.08, 0.35, 0.65, 0.85, 0.95, 1.05, 1.15, 1.18, 1.12, 1.15, 1.20, 1.20, 1.22, 1.20, 1.25, 1.28, 1.28]
doordp_rnd = [-0.05, -0.05, -0.05, -0.05, -0.05, -0.04, -0.03, 0.00, 0.10, 0.20, 0.32, 0.48, 0.35, 0.50, 0.60, 0.65, 0.55, 0.50, 0.78, 0.65]
doordp_vpace_sd = [0.00, 0.00, 0.05, 0.15, 0.25, 0.30, 0.25, 0.20, 0.15, 0.12, 0.12, 0.12, 0.15, 0.15, 0.15, 0.15, 0.15, 0.12, 0.12, 0.12]
doordp_ace_sd = [0.00, 0.00, 0.05, 0.10, 0.15, 0.20, 0.20, 0.15, 0.12, 0.12, 0.15, 0.20, 0.20, 0.20, 0.20, 0.15, 0.15, 0.15, 0.15, 0.15]
doordp_sqil_sd = [0.00, 0.00, 0.05, 0.15, 0.25, 0.30, 0.30, 0.25, 0.20, 0.20, 0.20, 0.25, 0.25, 0.25, 0.25, 0.25, 0.25, 0.25, 0.25, 0.20]
doordp_rce_sd = [0.01, 0.01, 0.01, 0.01, 0.01, 0.01, 0.01, 0.01, 0.01, 0.01, 0.01, 0.02, 0.02, 0.02, 0.02, 0.02, 0.10, 0.20, 0.10, 0.02]
doordp_dac_sd = [0.00, 0.00, 0.05, 0.10, 0.20, 0.25, 0.25, 0.20, 0.20, 0.25, 0.30, 0.30, 0.30, 0.25, 0.20, 0.20, 0.20, 0.20, 0.20, 0.20]
doordp_rnd_sd = [0.00, 0.00, 0.01, 0.02, 0.05, 0.10, 0.20, 0.30, 0.40, 0.50, 0.60, 0.70, 0.80, 0.90, 0.90, 0.90, 0.80, 0.70, 0.70, 0.70]

hamdp_x = [0.5, 1.0, 1.5, 2.0, 2.5, 3.0, 3.5, 4.0, 4.5, 5.0, 5.5, 6.0, 6.5, 7.0, 7.5, 8.0, 8.5, 9.0, 9.5, 10.0]
hamdp_vpace = [-0.25, -0.25, -0.25, -0.25, -0.20, -0.15, -0.10, 0.00, 0.40, 0.85, 0.60, 0.80, 0.40, 0.90, 2.00, 1.10, 0.70, 1.50, 0.90, 0.50]
hamdp_ace = [-0.25, -0.25, -0.25, -0.25, -0.10, 0.20, 0.30, 0.05, 0.15, 0.15, 0.05, 0.10, 0.05, 0.00, 0.10, 0.15, 0.10, 0.10, 0.10, 0.10]
hamdp_sqil = [-0.25, -0.25, -0.25, -0.25, -0.25, -0.25, -0.20, -0.20, -0.20, -0.20, -0.20, -0.15, -0.05, 0.00, 0.10, 0.20, 0.50, 0.80, 0.60, 1.00]
hamdp_rce = [-0.25, -0.25, -0.25, -0.25, -0.25, -0.25, -0.25, -0.25, -0.25, -0.25, -0.25, -0.25, -0.25, -0.25, -0.25, -0.25, -0.25, -0.25, -0.25, -0.25]
hamdp_dac = [-0.25, -0.25, -0.25, -0.20, -0.15, -0.10, -0.05, 0.00, 0.05, 0.00, 0.10, 0.10, 0.05, 0.10, 0.20, 0.90, 1.20, 0.80, 0.30, 1.00]
hamdp_rnd = [-0.25, -0.25, -0.25, -0.25, -0.25, -0.20, -0.20, -0.20, -0.15, -0.10, -0.05, 0.00, 0.05, 0.10, 0.20, 0.60, 0.90, 1.00, 0.60, 0.80]
hamdp_vpace_sd = [0.00, 0.00, 0.00, 0.00, 0.05, 0.10, 0.30, 0.50, 1.00, 1.50, 2.00, 2.20, 1.50, 1.80, 1.20, 1.00, 1.20, 1.50, 1.50, 1.50]
hamdp_ace_sd = [0.00, 0.00, 0.00, 0.05, 0.30, 0.50, 0.50, 0.30, 0.30, 0.30, 0.20, 0.20, 0.20, 0.20, 0.30, 0.30, 0.30, 0.30, 0.30, 0.30]
hamdp_sqil_sd = [0.00, 0.00, 0.00, 0.00, 0.00, 0.00, 0.05, 0.05, 0.05, 0.05, 0.10, 0.10, 0.30, 0.50, 0.80, 1.00, 1.20, 1.50, 1.50, 1.50]
hamdp_rce_sd = [0.02, 0.02, 0.02, 0.02, 0.02, 0.02, 0.02, 0.02, 0.02, 0.02, 0.02, 0.02, 0.02, 0.02, 0.02, 0.02, 0.02, 0.02, 0.02, 0.02]
hamdp_dac_sd = [0.00, 0.00, 0.00, 0.05, 0.10, 0.10, 0.15, 0.20, 0.30, 0.30, 0.40, 0.50, 0.60, 0.80, 1.00, 1.20, 1.50, 1.50, 1.20, 1.50]
hamdp_rnd_sd = [0.00, 0.00, 0.00, 0.00, 0.05, 0.10, 0.20, 0.30, 0.50, 0.80, 1.00, 1.50, 2.00, 2.00, 2.00, 2.00, 2.00, 1.80, 1.80, 1.80]

reldp_x = [0, 1, 2, 3, 4, 5, 6, 7, 7.5, 8, 8.5, 9, 9.5, 10, 10.5, 11, 11.5, 12, 12.5, 13, 13.5, 14, 14.5, 15]
reldp_vpace = [0.00, 0.00, 0.00, 0.00, 0.00, 0.00, 0.01, 0.05, 0.10, 0.20, 0.35, 0.50, 0.70, 0.90, 1.10, 1.30, 1.50, 1.95, 1.40, 1.85, 1.50, 1.80, 1.80, 1.65]
reldp_ace = [0.00, 0.00, 0.00, 0.00, 0.02, 0.05, 0.20, 0.60, 0.90, 0.75, 0.95, 1.00, 1.30, 1.20, 1.40, 1.60, 1.30, 1.80, 1.65, 2.00, 1.90, 2.10, 1.80, 2.20]
reldp_sqil = [0.00, 0.00, 0.00, 0.00, 0.00, 0.00, 0.00, 0.00, 0.00, 0.00, 0.00, 0.05, 0.15, 0.30, 0.20, 0.40, 0.35, 0.45, 0.55, 0.60, 0.75, 0.80, 1.40, 1.30]
reldp_rce = [0.00, 0.00, 0.00, 0.00, 0.00, 0.00, 0.00, 0.00, 0.00, 0.00, 0.00, 0.00, 0.00, 0.00, 0.00, 0.00, 0.00, 0.00, 0.00, 0.00, 0.00, 0.00, 0.00, 0.00]
reldp_dac = [0.00, 0.00, 0.00, 0.00, 0.00, 0.00, 0.00, 0.00, 0.00, 0.00, 0.00, 0.05, 0.15, 0.40, 0.70, 0.85, 1.00, 1.10, 1.30, 1.20, 1.50, 1.80, 1.60, 1.65]
reldp_rnd = [0.00, 0.00, 0.00, 0.00, 0.00, 0.00, 0.00, 0.00, 0.00, 0.00, 0.00, 0.00, 0.00, 0.00, 0.00, 0.00, 0.00, 0.00, 0.00, 0.00, 0.00, 0.00, 0.00, 0.00]
reldp_vpace_sd = [0.00, 0.00, 0.00, 0.00, 0.00, 0.00, 0.02, 0.10, 0.15, 0.20, 0.30, 0.40, 0.45, 0.50, 0.50, 0.50, 0.50, 0.40, 0.40, 0.40, 0.40, 0.40, 0.30, 0.30]
reldp_ace_sd = [0.00, 0.00, 0.00, 0.00, 0.03, 0.08, 0.20, 0.50, 0.80, 0.50, 0.50, 0.50, 0.50, 0.50, 0.50, 0.50, 0.50, 0.40, 0.40, 0.40, 0.40, 0.30, 0.30, 0.30]
reldp_sqil_sd = [0.00, 0.00, 0.00, 0.00, 0.00, 0.00, 0.00, 0.00, 0.00, 0.00, 0.00, 0.05, 0.15, 0.25, 0.30, 0.35, 0.40, 0.40, 0.40, 0.45, 0.50, 0.50, 0.60, 0.60]
reldp_rce_sd = [0.00, 0.00, 0.00, 0.00, 0.00, 0.00, 0.00, 0.00, 0.00, 0.00, 0.00, 0.00, 0.00, 0.00, 0.00, 0.00, 0.00, 0.00, 0.00, 0.00, 0.00, 0.00, 0.00, 0.00]
reldp_dac_sd = [0.00, 0.00, 0.00, 0.00, 0.00, 0.00, 0.00, 0.00, 0.00, 0.00, 0.00, 0.05, 0.15, 0.30, 0.40, 0.40, 0.40, 0.40, 0.40, 0.40, 0.40, 0.40, 0.40, 0.40]
reldp_rnd_sd = [0.00, 0.00, 0.00, 0.00, 0.00, 0.00, 0.00, 0.00, 0.00, 0.00, 0.00, 0.00, 0.00, 0.00, 0.00, 0.00, 0.00, 0.00, 0.00, 0.00, 0.00, 0.00, 0.00, 0.00]

door_x = [0.1, 0.2, 0.3, 0.4, 0.5, 0.6, 0.7, 0.8, 0.9, 1.0, 1.2, 1.4, 1.6, 1.8, 2.0, 2.2, 2.4, 2.6, 2.8, 3.0]
door_vpace = [0.00, 0.02, 0.10, 0.25, 0.45, 0.80, 1.20, 1.60, 1.90, 2.10, 2.40, 2.50, 2.55, 2.55, 2.58, 2.60, 2.58, 2.55, 2.50, 2.45]
door_ace = [0.00, 0.02, 0.08, 0.20, 0.35, 0.60, 0.90, 1.20, 1.50, 1.75, 2.05, 2.20, 2.30, 2.35, 2.38, 2.40, 2.45, 2.50, 2.40, 2.20]
door_sqil = [0.00, 0.02, 0.12, 0.30, 0.50, 0.85, 1.20, 1.60, 1.90, 2.15, 2.40, 2.50, 2.50, 2.52, 2.50, 2.50, 2.45, 2.40, 2.30, 2.15]
door_rce = [0.00, 0.00, 0.00, 0.02, 0.05, 0.10, 0.20, 0.30, 0.40, 0.50, 0.70, 0.95, 1.30, 1.55, 1.80, 1.65, 1.30, 1.15, 1.20, 1.65]
door_dac = [0.00, 0.01, 0.08, 0.20, 0.38, 0.60, 0.85, 1.10, 1.35, 1.55, 1.85, 2.05, 2.15, 2.25, 2.30, 2.35, 2.40, 2.40, 2.42, 2.45]
door_rnd = [0.00, 0.00, 0.01, 0.03, 0.08, 0.15, 0.25, 0.35, 0.45, 0.60, 0.90, 1.20, 1.50, 1.75, 1.90, 1.95, 2.00, 2.00, 2.00, 2.00]
door_vpace_sd = [0.00, 0.02, 0.05, 0.10, 0.15, 0.20, 0.25, 0.30, 0.30, 0.30, 0.20, 0.15, 0.12, 0.12, 0.12, 0.12, 0.12, 0.12, 0.12, 0.12]
door_ace_sd = [0.00, 0.02, 0.05, 0.10, 0.15, 0.20, 0.20, 0.20, 0.20, 0.20, 0.20, 0.20, 0.20, 0.20, 0.20, 0.20, 0.20, 0.20, 0.20, 0.20]
door_sqil_sd = [0.00, 0.02, 0.05, 0.10, 0.15, 0.20, 0.25, 0.25, 0.25, 0.25, 0.25, 0.25, 0.25, 0.25, 0.25, 0.25, 0.25, 0.25, 0.25, 0.25]
door_rce_sd = [0.00, 0.00, 0.00, 0.02, 0.05, 0.10, 0.15, 0.20, 0.30, 0.40, 0.50, 0.60, 0.70, 0.80, 0.80, 0.80, 0.80, 0.80, 0.70, 0.60]
door_dac_sd = [0.00, 0.02, 0.05, 0.10, 0.15, 0.20, 0.25, 0.30, 0.30, 0.30, 0.30, 0.30, 0.30, 0.30, 0.30, 0.30, 0.30, 0.30, 0.30, 0.30]
door_rnd_sd = [0.00, 0.00, 0.02, 0.05, 0.10, 0.15, 0.20, 0.30, 0.40, 0.50, 0.60, 0.70, 0.70, 0.60, 0.50, 0.40, 0.40, 0.40, 0.40, 0.40]

ham_x = [0.2, 0.4, 0.6, 0.8, 1.0, 1.2, 1.4, 1.6, 1.8, 2.0, 2.2, 2.4, 2.6, 2.8, 3.0, 3.2, 3.4, 3.6, 3.8, 4.0, 4.2, 4.4, 4.6, 4.8, 5.0]
ham_vpace = [-0.2, -0.2, -0.2, -0.2, -0.1, 0.2, 0.5, 1.0, 1.5, 2.5, 1.3, 2.5, 4.5, 5.1, 4.6, 3.5, 5.0, 5.4, 4.3, 3.5, 3.0, 3.8, 3.5, 4.0, 6.0]
ham_ace = [-0.2, -0.2, -0.2, -0.2, 0.0, 0.0, -0.2, 0.5, 1.5, 2.0, 2.5, 3.0, 4.0, 4.5, 5.0, 4.0, 4.5, 3.5, 3.0, 2.8, 3.0, 2.5, 2.0, 2.5, 3.0]
ham_sqil = [-0.2, -0.2, -0.2, 0.2, 0.5, 0.8, 1.2, 1.5, 2.0, 2.5, 3.0, 2.5, 2.7, 3.5, 3.0, 3.8, 4.0, 4.5, 5.0, 5.5, 6.5, 7.5, 5.5, 5.0, 6.0]
ham_rce = [-0.2, -0.2, -0.2, -0.2, -0.2, -0.2, -0.2, -0.2, -0.2, -0.2, -0.2, -0.2, -0.2, -0.2, -0.2, -0.2, -0.2, -0.2, -0.2, -0.2, -0.2, -0.2, -0.2, -0.2, -0.2]
ham_dac = [-0.2, -0.2, -0.2, -0.2, -0.2, -0.2, -0.2, -0.2, -0.1, 0.0, 0.0, 0.1, 0.3, 0.5, 0.7, 1.0, 0.7, 0.5, 0.3, 0.1, 0.0, 0.2, 0.5, 0.8, 0.8]
ham_rnd = [-0.2, -0.2, -0.2, -0.3, -0.3, -0.2, -0.1, 0.1, 0.3, 0.5, 0.8, 1.0, 1.5, 2.0, 2.0, 1.5, 2.0, 1.5, 1.5, 1.2, 1.2, 1.5, 1.8, 2.5, 2.5]
ham_vpace_sd = [0.0, 0.0, 0.0, 0.0, 0.2, 0.5, 1.0, 2.0, 3.0, 4.0, 3.0, 3.5, 4.0, 4.5, 5.0, 4.0, 3.5, 3.5, 3.0, 2.5, 2.5, 2.5, 2.5, 3.0, 3.5]
ham_ace_sd = [0.0, 0.0, 0.0, 0.0, 0.2, 0.3, 0.5, 1.0, 1.5, 2.0, 2.5, 3.0, 3.0, 3.0, 3.0, 3.0, 3.0, 3.0, 3.0, 3.0, 3.0, 3.0, 3.0, 3.0, 3.0]
ham_sqil_sd = [0.0, 0.0, 0.1, 0.3, 0.6, 1.0, 2.0, 3.0, 4.0, 4.0, 4.0, 4.0, 4.0, 4.0, 4.0, 4.0, 4.0, 3.5, 3.5, 3.0, 3.0, 3.0, 3.0, 3.0, 4.0]
ham_rce_sd = [0.1, 0.1, 0.1, 0.1, 0.1, 0.1, 0.1, 0.1, 0.1, 0.1, 0.1, 0.1, 0.1, 0.1, 0.1, 0.1, 0.1, 0.1, 0.1, 0.1, 0.1, 0.1, 0.1, 0.1, 0.1]
ham_dac_sd = [0.0, 0.0, 0.0, 0.0, 0.0, 0.0, 0.0, 0.1, 0.2, 0.3, 0.4, 0.5, 0.6, 0.8, 1.0, 1.2, 1.2, 1.2, 1.2, 1.5, 2.0, 2.5, 2.5, 2.5, 2.5]
ham_rnd_sd = [0.0, 0.0, 0.0, 0.2, 0.3, 0.3, 0.5, 0.8, 1.0, 1.2, 1.5, 1.5, 1.5, 1.5, 1.5, 1.5, 1.5, 1.5, 1.5, 1.5, 1.5, 1.5, 1.5, 1.5, 1.5]

rel_x = [0, 1.5, 3, 4.5, 6, 7.5, 9, 10.5, 12, 13.5, 15]
rel_vpace = [0.0, 0.0, 0.0, 0.0, 0.0, 0.0, 0.0, 0.0, 0.0, 0.0, 0.0]
rel_ace = [0.0, 0.0, 0.0, 0.0, 0.0, 0.0, 0.0, 0.0, 0.0, 0.0, 0.0]
rel_sqil = [0.0, 0.0, 0.0, 0.0, 0.0, 0.0, 0.0, 0.0, 0.0, 0.0, 0.0]
rel_rce = [0.0, 0.0, 0.0, 0.0, 0.0, 0.0, 0.0, 0.0, 0.0, 0.0, 0.0]
rel_dac = [0.0, 0.0, 0.0, 0.0, 0.0, 0.0, 0.0, 0.0, 0.0, 0.0, 0.0]
rel_rnd = [0.0, 0.0, 0.0, 0.0, 0.0, 0.0, 0.0, 0.0, 0.0, 0.0, 0.0]

# tick labels
ticks_2 = ["0.0", "0.4", "0.8", "1.2", "1.6", "2.0"]
ticks_5 = ["0", "1", "2", "3", "4", "5"]
ticks_10 = ["0", "2", "4", "6", "8", "10"]
ticks_3 = ["0.0", "0.6", "1.2", "1.8", "2.4", "3.0"]
ticks_15 = ["0", "3", "6", "9", "12", "15"]
yt_sr = ["0.0", "0.5", "1.0"]
yt_dopen = ["0.00", "0.05", "0.10"]
yt_02 = ["0.0", "0.1", "0.2"]
yt_slift = ["0.00", "0.02", "0.04", "0.06"]
yt_doordp = ["0.0", "0.5", "1.0", "1.5"]
yt_3 = ["0.0", "1.0", "2.0", "3.0"]
yt_2 = ["0.0", "1.0", "2.0"]
yt_10 = ["0.0", "5.0", "10.0"]

KEYS = ["vpace", "ace", "sqil", "rce", "dac", "rnd"]


def series(p):
    g = globals()
    means = [g[p + "_" + k] for k in KEYS]
    sds = [g.get(p + "_" + k + "_sd") for k in KEYS]
    return means, sds


# ---------------- panel table (layout in pixels) ----------------
panels = [
    # name, prefix, box px (l, r, t, b), xrange, xticks, yrange, yticks, band clip
    ("Reach", "reach", (39, 167, 14, 93), (0.0, 2.08), ticks_2, (-0.01, 1.005), yt_sr, (0, 1)),
    ("Lift", "lift", (186, 312, 14, 93), (-0.01, 2.04), ticks_2, (-0.01, 1.005), yt_sr, (0, 1)),
    ("Move-Block", "move", (331, 459, 14, 93), (-0.01, 2.04), ticks_2, (-0.01, 1.005), yt_sr, (0, 1)),
    ("Stack", "stack", (479, 607, 14, 93), (-0.12, 5.08), ticks_5, (-0.01, 1.005), yt_sr, (0, 1)),
    ("Unstack-Stack", "unstack", (628, 759, 14, 93), (-0.1, 5.1), ticks_5, (-0.01, 1.005), yt_sr, (0, 1)),
    ("Bring", "bring", (777, 903, 14, 93), (-0.05, 5.1), ticks_5, (-0.01, 1.005), yt_sr, (0, 1)),
    ("Insert", "insert", (926, 1053, 14, 93), (-0.15, 10.4), ticks_10, (-0.01, 1.005), yt_sr, (0, 1)),
    ("sawyer_drawer_open", "dopen", (50, 199, 129, 222), (-0.045, 3.145), ticks_3, (-0.0096, 0.1396), yt_dopen, (0, 0.135)),
    ("sawyer_drawer_close", "dclose", (218, 368, 129, 222), (-0.045, 3.145), ticks_3, (-0.011, 0.2007), yt_02, (0, 0.2)),
    ("sawyer_push", "push", (390, 538, 129, 222), (-0.15, 5.25), ticks_5, (-0.011, 0.259), yt_02, (0, 0.25)),
    ("sawyer_lift", "slift", (565, 713, 129, 222), (-0.15, 5.27), ticks_5, (-0.011, 0.0695), yt_slift, (-0.011, 0.068)),
    ("sawyer_box_close", "box", (735, 880, 129, 222), (-0.15, 5.15), ticks_5, (-0.011, 0.2706), yt_02, (0, 0.26)),
    ("sawyer_bin_picking", "bin", (898, 1052, 129, 222), (-0.21, 3.11), ticks_3, (-0.011, 0.2207), yt_02, (0, 0.215)),
    ("door-human-v0-dp", "doordp", (47, 195, 262, 355), (-0.145, 5.24), ticks_5, (-0.104, 1.505), yt_doordp, (-0.07, 1.6)),
    ("hammer-human-v0-dp", "hamdp", (218, 367, 262, 355), (-0.34, 10.56), ticks_10, (-0.405, 3.01), yt_3, (-0.3, 3.1)),
    ("relocate-human-v0-najp-dp", "reldp", (388, 538, 262, 355), (-0.7, 15.85), ticks_15, (-0.11, 2.31), yt_2, (0, 2.4)),
    ("door-human-v0", "door", (558, 708, 262, 355), (-0.064, 3.12), ticks_3, (-0.115, 3.13), yt_3, (0, 3.2)),
    ("hammer-human-v0", "ham", (733, 883, 262, 355), (-0.22, 5.26), ticks_5, (-0.98, 10.03), yt_10, (-0.4, 10.5)),
    ("relocate-human-v0", "rel", (904, 1053, 262, 355), (-0.73, 15.43), ticks_15, (-0.12, 2.51), yt_2, (0, 2.5)),
]


def rgba(c, a):
    return "rgba(%d,%d,%d,%s)" % (c[0], c[1], c[2], a)


fig = go.Figure()
layout = dict(
    width=W, height=H, margin=dict(l=0, r=0, t=0, b=0),
    paper_bgcolor="white", plot_bgcolor="white",
    font=dict(family=FONT, color="black"),
    showlegend=True, hovermode=False,
)
annotations = []
PAD = "\u00a0" * 4

for i, (name, pre, (l, r, t, b), xr, xtt, yr, ytt, clip) in enumerate(panels):
    k = "" if i == 0 else str(i + 1)
    xa, ya = "x" + k, "y" + k
    means, sds = series(pre)
    xs = globals()[pre + "_x"]
    for j in range(6):
        m, s = means[j], sds[j]
        if s is not None and any(v > 0 for v in s):
            up = [min(a + d, clip[1]) for a, d in zip(m, s)]
            lo = [max(a - d, clip[0]) for a, d in zip(m, s)]
            fig.add_trace(go.Scatter(
                x=list(xs) + list(xs)[::-1], y=up + lo[::-1], fill="toself",
                fillcolor=rgba(RGB[j], 0.2), line=dict(width=0), mode="lines",
                hoverinfo="skip", showlegend=False, xaxis=xa, yaxis=ya))
        fig.add_trace(go.Scatter(
            x=xs, y=m, mode="lines",
            name=METHODS[j] + (PAD if j < 5 else ""), legendgroup=METHODS[j],
            showlegend=(i == 0),
            line=dict(color=rgba(RGB[j], 1), width=2, dash=DASHES[j]),
            xaxis=xa, yaxis=ya))

    xvals = [float(v) for v in xtt]
    yvals = [float(v) for v in ytt]
    common = dict(showline=True, mirror=True, linecolor="black", linewidth=1.2,
                  ticks="outside", ticklen=3, tickwidth=1, tickcolor="black",
                  showgrid=True, gridcolor="#e3e3e3", gridwidth=1, zeroline=False,
                  ticklabeloverflow="allow", fixedrange=True,
                  tickfont=dict(family=FONT, size=9.5, color="#222"))
    layout["xaxis" + k] = dict(domain=[l / W, r / W], anchor=ya, range=list(xr),
                               tickmode="array", tickvals=xvals, ticktext=xtt, **common)
    layout["yaxis" + k] = dict(domain=[1 - b / H, 1 - t / H], anchor=xa, range=list(yr),
                               tickmode="array", tickvals=yvals, ticktext=ytt, **common)
    annotations.append(dict(text=name, x=(l + r) / 2 / W, y=1 - (t - 1) / H, xref="paper", yref="paper",
                            xanchor="center", yanchor="bottom", showarrow=False,
                            font=dict(family=FONT, size=13.5, color="black")))

for txt, yc in [("Success Rate", 55), ("Episode Return", 182), ("Episode Return (×1k)", 318)]:
    annotations.append(dict(text=txt, x=12 / W, y=1 - yc / H, xref="paper", yref="paper",
                            xanchor="center", yanchor="middle", textangle=-90, showarrow=False,
                            font=dict(family=FONT, size=15, color="black")))
annotations.append(dict(text="Env. Steps (×100k)", x=531 / W, y=1 - 381 / H, xref="paper", yref="paper",
                        xanchor="center", yanchor="middle", showarrow=False,
                        font=dict(family=FONT, size=16, color="black")))

layout["annotations"] = annotations
layout["legend"] = dict(orientation="h", x=481 / W, xanchor="center", y=1 - 392 / H, yanchor="top",
                        bgcolor="white", bordercolor="#bbbbbb", borderwidth=1,
                        font=dict(family=FONT, size=11, color="black"), itemwidth=30,
                        tracegroupgap=0)
fig.update_layout(**layout)
fig.write_html("out.html", config={"displayModeBar": False, "staticPlot": True},
               post_script="document.body.style.margin='0px';")
